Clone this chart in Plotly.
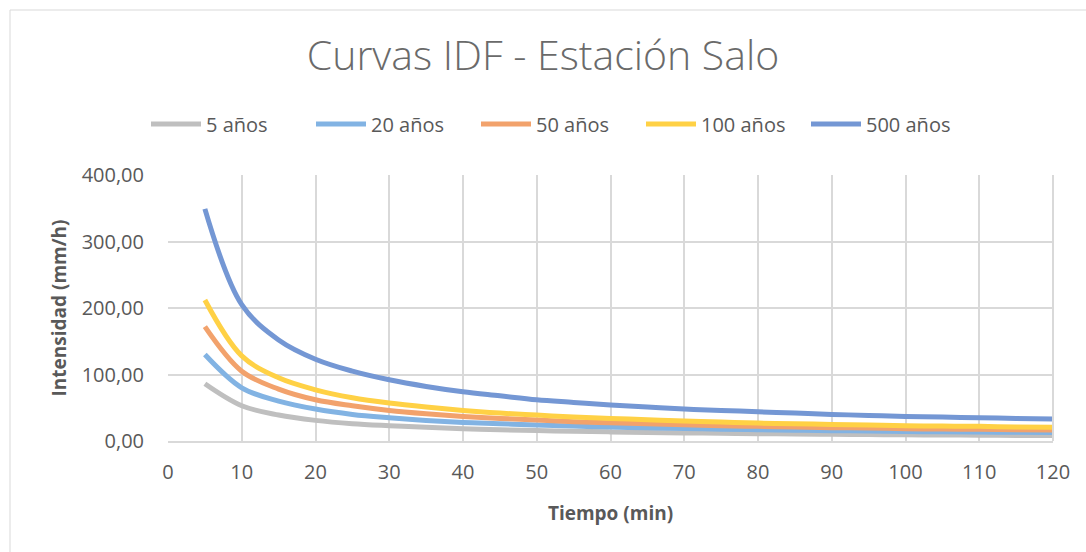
import plotly.graph_objects as go

tiempo = [5, 10, 15, 20, 25, 30, 35, 40, 45, 50, 55, 60, 65, 70, 75, 80, 85, 90, 95, 100, 105, 110, 115, 120]

i_5 = [86, 53, 39, 31, 26, 23, 20.5, 18.5, 17, 15.7, 14.6, 13.7, 12.9, 12.2, 11.6, 11, 10.5, 10.1, 9.7, 9.3, 9, 8.7, 8.4, 8.2]
i_20 = [130, 80, 60, 48, 40, 35, 31, 28, 26, 24, 22.5, 21, 19.8, 18.7, 17.8, 17, 16.2, 15.5, 15, 14.3, 13.8, 13.4, 13, 12.6]
i_50 = [172, 105, 78, 62, 53, 46, 41, 37, 34, 31.5, 29, 27.5, 26, 24.5, 23, 22, 21, 20, 19.5, 18.5, 18, 17.5, 17, 16.5]
i_100 = [212, 128, 95, 77, 65, 57, 51, 46, 42, 39, 36, 34, 32, 30, 28.5, 27, 26, 25, 24, 23, 22.5, 22, 21, 20.5]
i_500 = [349, 205, 152, 123, 105, 92, 82, 74, 68, 62, 58, 54, 51, 48, 46, 44, 42, 40, 38.5, 37, 36, 35, 34, 33]

series = [
    ("5 años", i_5, "#BFBFBF"),
    ("20 años", i_20, "#82B3E3"),
    ("50 años", i_50, "#F2A26C"),
    ("100 años", i_100, "#FFD145"),
    ("500 años", i_500, "#7497D4"),
]

FONT = "Open Sans"
GREY = "#595959"

fig = go.Figure()
for name, vals, col in series:
    fig.add_trace(go.Scatter(x=tiempo, y=vals, name=name, mode="lines",
                             line=dict(color=col, width=5, shape="spline", smoothing=1.0)))

fig.update_layout(
    width=1086, height=552,
    margin=dict(l=168, r=33, t=175, b=111),
    paper_bgcolor="white", plot_bgcolor="white",
    separators=",.",
    font=dict(family=FONT, color=GREY, size=20),
    title=dict(text="Curvas IDF - Estación Salo", x=0.5, xanchor="center",
               y=1 - 56 / 552, yanchor="middle",
               font=dict(family=FONT, size=41, color="#6A6A6A", weight=300)),
    legend=dict(orientation="h", x=(558.5 - 168) / 885, xanchor="center", y=(441 - 124) / 266, yanchor="middle",
                font=dict(family=FONT, size=20, color=GREY), itemwidth=50,
                entrywidth=100, entrywidthmode="pixels",
                bgcolor="rgba(0,0,0,0)"),
    xaxis=dict(range=[0, 120], dtick=10, tick0=0, showgrid=True, gridcolor="#D9D9D9", gridwidth=2,
               zeroline=False, showline=True, linecolor="#D9D9D9", linewidth=2, mirror=False,
               ticks="", tickfont=dict(size=20, color=GREY), ticklabelstandoff=12,
               title=dict(text="<b>Tiempo (min)</b>", font=dict(size=19, color=GREY), standoff=23)),
    yaxis=dict(range=[0, 400], dtick=100, tickformat=".2f", showgrid=True, gridcolor="#D9D9D9", gridwidth=2,
               zeroline=False, showline=False, ticks="", tickfont=dict(size=20, color=GREY),
               ticklabelstandoff=23,
               title=dict(text="<b>Intensidad (mm/h)</b>", font=dict(size=19, color=GREY), standoff=9)),
    shapes=[
        dict(type="line", xref="paper", yref="paper", x0=(10 - 168) / 885, x1=(1086 - 168) / 885,
             y0=(441 - 10) / 266, y1=(441 - 10) / 266, line=dict(color="#D9D9D9", width=1)),
        dict(type="line", xref="paper", yref="paper", x0=(10 - 168) / 885, x1=(10 - 168) / 885,
             y0=(441 - 10) / 266, y1=(441 - 552) / 266, line=dict(color="#D9D9D9", width=1)),
        dict(type="line", xref="paper", yref="paper", x0=1.0, x1=1.0,
             y0=0, y1=1, line=dict(color="#D9D9D9", width=2)),
    ],
)

fig.write_html("out.html")
